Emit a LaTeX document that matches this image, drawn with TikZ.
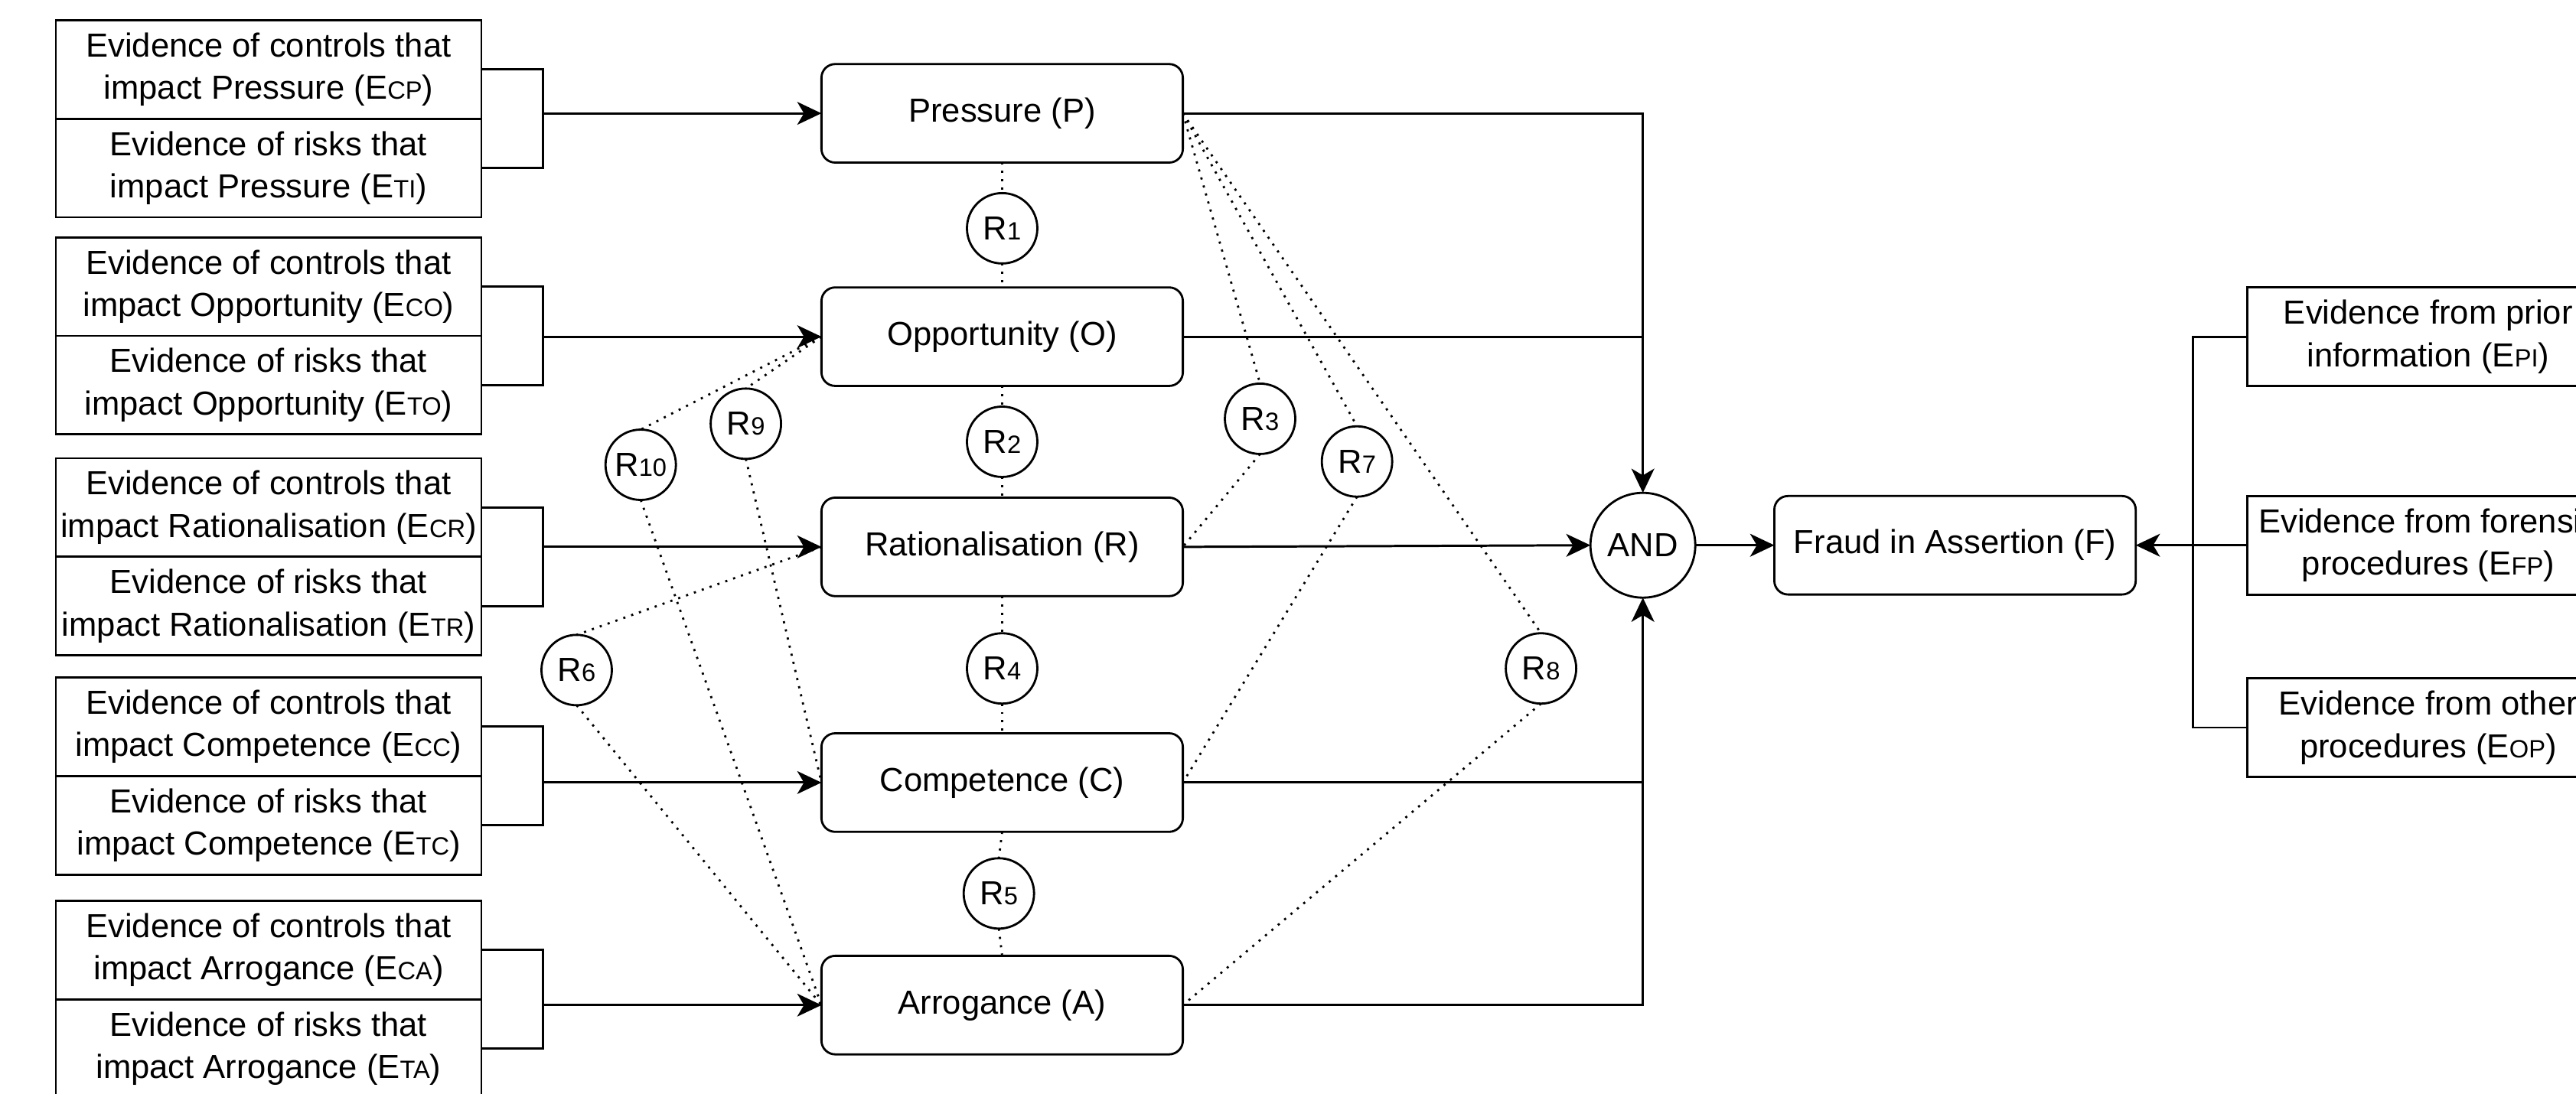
\documentclass[tikz,border=0pt]{standalone}
\usepackage{fontspec}
\setmainfont{Liberation Sans}
\usetikzlibrary{arrows.meta}
\newcommand{\idx}[1]{{\fontsize{9.3}{9.3}\selectfont #1}}
\begin{document}
\begin{tikzpicture}[x=0.021467cm, y=-0.021467cm,
  every node/.style={font=\fontsize{12.4}{15.8}\selectfont, inner sep=0pt, outer sep=0pt},
  evbox/.style={draw, line width=0.8pt, minimum width=5.56cm, minimum height=1.288cm, align=center},
  rbox/.style={draw, line width=0.8pt, minimum width=4.723cm, minimum height=1.288cm, align=center},
  factor/.style={draw, line width=0.8pt, rounded corners=0.18cm, minimum width=4.723cm, minimum height=1.288cm},
  rel/.style={draw, circle, line width=0.8pt, minimum size=0.92cm},
  gate/.style={draw, circle, line width=0.8pt, minimum size=1.37cm},
  link/.style={line width=0.85pt},
  arr/.style={link, -{Stealth[length=9pt, width=8.5pt, inset=2.5pt]}},
  reldot/.style={line width=0.8pt, dash pattern=on 0.8pt off 2.3pt},
]
\useasboundingbox (0,0) rectangle (1568,666);
\clip (0,0) rectangle (1568,666);

% left evidence boxes
\node[evbox] (U1) at (163.5,42.3) {Evidence of controls that\\impact Pressure (E\idx{CP})};
\node[evbox] (L1) at (163.5,102.3) {Evidence of risks that\\impact Pressure (E\idx{TI})};
\node[evbox] (U2) at (163.5,174.5) {Evidence of controls that\\impact Opportunity (E\idx{CO})};
\node[evbox] (L2) at (163.5,234.5) {Evidence of risks that\\impact Opportunity (E\idx{TO})};
\node[evbox] (U3) at (163.5,309) {Evidence of controls that\\impact Rationalisation (E\idx{CR})};
\node[evbox] (L3) at (163.5,369) {Evidence of risks that\\impact Rationalisation (E\idx{TR})};
\node[evbox] (U4) at (163.5,442.5) {Evidence of controls that\\impact Competence (E\idx{CC})};
\node[evbox] (L4) at (163.5,502.5) {Evidence of risks that\\impact Competence (E\idx{TC})};
\node[evbox] (U5) at (163.5,578.5) {Evidence of controls that\\impact Arrogance (E\idx{CA})};
\node[evbox] (L5) at (163.5,638.5) {Evidence of risks that\\impact Arrogance (E\idx{TA})};

% factor boxes
\node[factor] (fP) at (610,69) {Pressure (P)};
\node[factor] (fO) at (610,205) {Opportunity (O)};
\node[factor] (fR) at (610,333) {Rationalisation (R)};
\node[factor] (fC) at (610,476.5) {Competence (C)};
\node[factor] (fA) at (610,612) {Arrogance (A)};

% relation circles
\node[rel] (R1) at (610,139) {R\idx{1}};
\node[rel] (R2) at (610,269) {R\idx{2}};
\node[rel] (R3) at (767,255) {R\idx{3}};
\node[rel] (R4) at (610,407) {R\idx{4}};
\node[rel] (R5) at (608,544) {R\idx{5}};
\node[rel] (R6) at (351,408) {R\idx{6}};
\node[rel] (R7) at (826,281) {R\idx{7}};
\node[rel] (R8) at (938,407) {R\idx{8}};
\node[rel] (R9) at (454,258) {R\idx{9}};
\node[rel] (R10) at (390,283) {R\idx{10}};

% gate and result
\node[gate] (AND) at (1000,332) {AND};
\node[factor] (F) at (1190,332) {Fraud in Assertion (F)};

% right evidence boxes
\node[rbox] (EPI) at (1478,205) {Evidence from prior\\information (E\idx{PI})};
\node[rbox] (EFP) at (1478,332) {Evidence from forensic\\procedures (E\idx{FP})};
\node[rbox] (EOP) at (1478,443) {Evidence from other\\procedures (E\idx{OP})};

% bracket coordinates
\coordinate (b1) at (330.5,69);
\coordinate (b2) at (330.5,205);
\coordinate (b3) at (330.5,333);
\coordinate (b4) at (330.5,476.5);
\coordinate (b5) at (330.5,612);
\coordinate (rb) at (1335,332);

% left brackets and arrows
\draw[link] (U1.east) -- (U1.east -| b1) -- (L1.east -| b1) -- (L1.east);
\draw[link] (U2.east) -- (U2.east -| b2) -- (L2.east -| b2) -- (L2.east);
\draw[link] (U3.east) -- (U3.east -| b3) -- (L3.east -| b3) -- (L3.east);
\draw[link] (U4.east) -- (U4.east -| b4) -- (L4.east -| b4) -- (L4.east);
\draw[link] (U5.east) -- (U5.east -| b5) -- (L5.east -| b5) -- (L5.east);
\draw[arr] (b1) -- (fP.west);
\draw[arr] (b2) -- (fO.west);
\draw[arr] (b3) -- (fR.west);
\draw[arr] (b4) -- (fC.west);
\draw[arr] (b5) -- (fA.west);

% factors to AND
\draw[arr] (fP.east) -| (AND.north);
\draw[link] (fO.east) -- (fO.east -| AND.north);
\draw[arr] (fR.east) -- (AND.west);
\draw[arr] (fC.east) -| (AND.south);
\draw[link] (fA.east) -- (fA.east -| AND.south) -- (AND.south |- fC.east);
\draw[arr] (AND.east) -- (F.west);

% right bracket
\draw[link] (EPI.west) -- (EPI.west -| rb) -- (EOP.west -| rb) -- (EOP.west);
\draw[arr] (EFP.west) -- (F.east);

% relation lines
\draw[reldot] (fP.south) -- (R1.north);
\draw[reldot] (R1.south) -- (fO.north);
\draw[reldot] (fO.south) -- (R2.north);
\draw[reldot] (R2.south) -- (fR.north);
\draw[reldot] (fR.south) -- (R4.north);
\draw[reldot] (R4.south) -- (fC.north);
\draw[reldot] (fC.south) -- (R5.north);
\draw[reldot] (R5.south) -- (fA.north);
\draw[reldot] (fP.east) -- (R3.north);
\draw[reldot] (R3.south) -- (fR.east);
\draw[reldot] (fP.east) -- (R7.north);
\draw[reldot] (R7.south) -- (fC.east);
\draw[reldot] (fP.east) -- (R8.north);
\draw[reldot] (R8.south) -- (fA.east);
\draw[reldot] (fO.west) -- (R9.north);
\draw[reldot] (R9.south) -- (fC.west);
\draw[reldot] (fO.west) -- (R10.north);
\draw[reldot] (R10.south) -- (fA.west);
\draw[reldot] (fR.west) -- (R6.north);
\draw[reldot] (R6.south) -- (fA.west);
\end{tikzpicture}
\end{document}
